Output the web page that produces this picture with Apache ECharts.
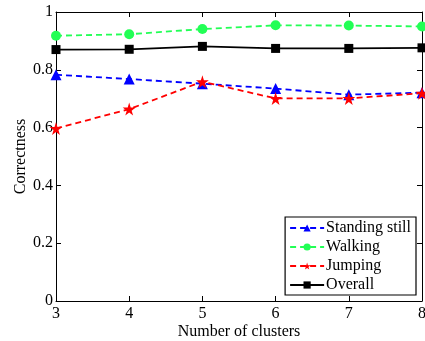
<!DOCTYPE html>
<html><head><meta charset="utf-8">
<script src="https://cdn.jsdelivr.net/npm/echarts@6/dist/echarts.min.js"></script>
<style>html,body{margin:0;padding:0;background:#fff}#c{width:425px;height:341px}</style>
</head><body><div id="c"></div>
<script>
const categories = [3, 4, 5, 6, 7, 8];
const standing = [0.783, 0.768, 0.752, 0.735, 0.714, 0.721];
const walking = [0.918, 0.923, 0.941, 0.954, 0.953, 0.950];
const jumping = [0.597, 0.664, 0.759, 0.701, 0.701, 0.719];
const overall = [0.870, 0.871, 0.881, 0.874, 0.874, 0.876];
const yTicks = [0, 0.2, 0.4, 0.6, 0.8, 1];

const star = 'path://M50,0 L61,35 L98,35 L68,57 L79,91 L50,70 L21,91 L32,57 L2,35 L39,35 Z';
const font = 'Liberation Serif';
const pairs = a => a.map((v, i) => [categories[i], v]);

const chart = echarts.init(document.getElementById('c'), null, {renderer: 'canvas'});
const axisCommon = {
  axisLine: {show: true, onZero: false, lineStyle: {color: '#000', width: 1}},
  axisTick: {show: true, inside: true, length: 5, lineStyle: {color: '#000'}},
  splitLine: {show: false}
};
chart.setOption({
  animation: false,
  backgroundColor: '#fff',
  grid: {left: 56, right: 3, top: 12, bottom: 40, containLabel: false, outerBoundsMode: 'none'},
  xAxis: [
    Object.assign({type: 'value', min: 3, max: 8, interval: 1, position: 'bottom',
      name: 'Number of clusters', nameLocation: 'middle', nameGap: 23, nameMoveOverlap: false,
      nameTextStyle: {fontFamily: font, fontSize: 16, color: '#000'},
      axisLabel: {fontFamily: font, fontSize: 16, color: '#000', margin: 5}}, axisCommon),
    Object.assign({type: 'value', min: 3, max: 8, interval: 1, position: 'top',
      axisLabel: {show: false}}, axisCommon)
  ],
  yAxis: [
    Object.assign({type: 'value', min: 0, max: 1, interval: 0.2, position: 'left',
      name: 'Correctness', nameLocation: 'middle', nameGap: 27, nameMoveOverlap: false,
      nameTextStyle: {fontFamily: font, fontSize: 16, color: '#000'},
      axisLabel: {fontFamily: font, fontSize: 16, color: '#000', margin: 3,
        formatter: v => (Math.abs(v) < 1e-9 ? '0' : (Math.abs(v - 1) < 1e-9 ? '1' : String(+v.toFixed(1))))}}, axisCommon),
    Object.assign({type: 'value', min: 0, max: 1, interval: 0.2, position: 'right',
      axisLabel: {show: false}}, axisCommon)
  ],
  legend: {
    right: 9, bottom: 46, orient: 'vertical',
    backgroundColor: '#fff', borderColor: '#000', borderWidth: 1.2, borderRadius: 0,
    padding: [3, 5, 2, 4], itemGap: 3, itemWidth: 34, itemHeight: 9,
    textStyle: {fontFamily: font, fontSize: 16, color: '#000', padding: [0, 0, 0, -3]},
    data: ['Standing still', 'Walking', 'Jumping', 'Overall']
  },
  series: [
    {name: 'Standing still', type: 'line', data: pairs(standing), symbol: 'triangle', symbolSize: 11,
      itemStyle: {color: '#0000ff'}, lineStyle: {color: '#0000ff', width: 1.8, type: [6, 4]}},
    {name: 'Walking', type: 'line', data: pairs(walking), symbol: 'circle', symbolSize: 10,
      itemStyle: {color: '#22ff55'}, lineStyle: {color: '#22ff55', width: 1.8, type: [6, 4]}},
    {name: 'Jumping', type: 'line', data: pairs(jumping), symbol: star, symbolSize: 13,
      itemStyle: {color: '#ff0000'}, lineStyle: {color: '#ff0000', width: 1.8, type: [6, 4]}},
    {name: 'Overall', type: 'line', data: pairs(overall), symbol: 'rect', symbolSize: 9,
      itemStyle: {color: '#000'}, lineStyle: {color: '#000', width: 1.8}}
  ]
});
</script></body></html>
